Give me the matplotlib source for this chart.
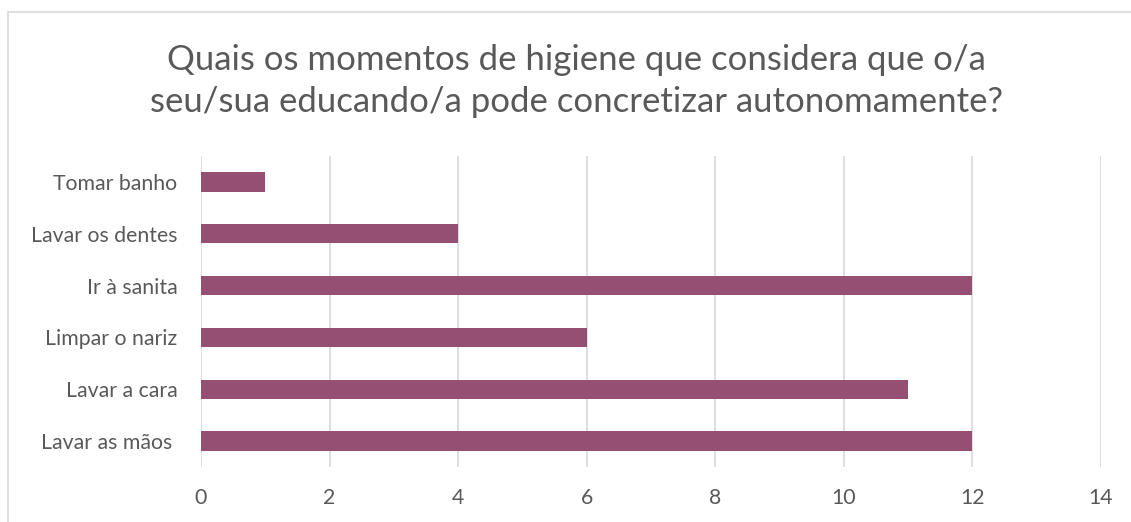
import matplotlib.pyplot as plt
from matplotlib.patches import Rectangle

categories = ["Tomar banho", "Lavar os dentes", "Ir à sanita",
              "Limpar o nariz", "Lavar a cara", "Lavar as mãos "]
values = [1, 4, 12, 6, 11, 12]
xticks = [0, 2, 4, 6, 8, 10, 12, 14]

title = "Quais os momentos de higiene que considera que o/a\nseu/sua educando/a pode concretizar autonomamente?"

plt.rcParams['font.family'] = ['Lato', 'DejaVu Sans']
text_col = "#595959"

fig = plt.figure(figsize=(11.31, 5.22), dpi=100)
# chart area border (cropped on the right and bottom)
fig.patches.append(Rectangle((8 / 1131, -0.05), 1.2, 1 - 12 / 522 + 0.05,
                             transform=fig.transFigure, fill=False,
                             edgecolor="#d9d9d9", linewidth=1.2))

ax = fig.add_axes([201 / 1131, 1 - 467 / 522, 900 / 1131, 311 / 522])

# first category on top
ypos = list(range(len(categories)))[::-1]
ax.barh(ypos, values, height=0.37, color="#954f72", zorder=3)

ax.set_xlim(0, 14)
ax.set_ylim(-0.5, len(categories) - 0.5)
ax.set_xticks(xticks)
ax.set_xticklabels([str(t) for t in xticks])
ax.set_yticks(ypos)
ax.set_yticklabels(categories)
ax.grid(axis="x", color="#d9d9d9", linewidth=1.2, zorder=0)
ax.tick_params(axis="both", length=0, labelsize=15.3, colors=text_col)
ax.tick_params(axis="x", pad=15)
ax.tick_params(axis="y", pad=17)
for s in ax.spines.values():
    s.set_visible(False)

fig.text(576 / 1131, 1 - 81 / 522, title, ha="center", va="center",
         fontsize=25, color=text_col, linespacing=1.38)

fig.savefig("out.png", dpi=100)
